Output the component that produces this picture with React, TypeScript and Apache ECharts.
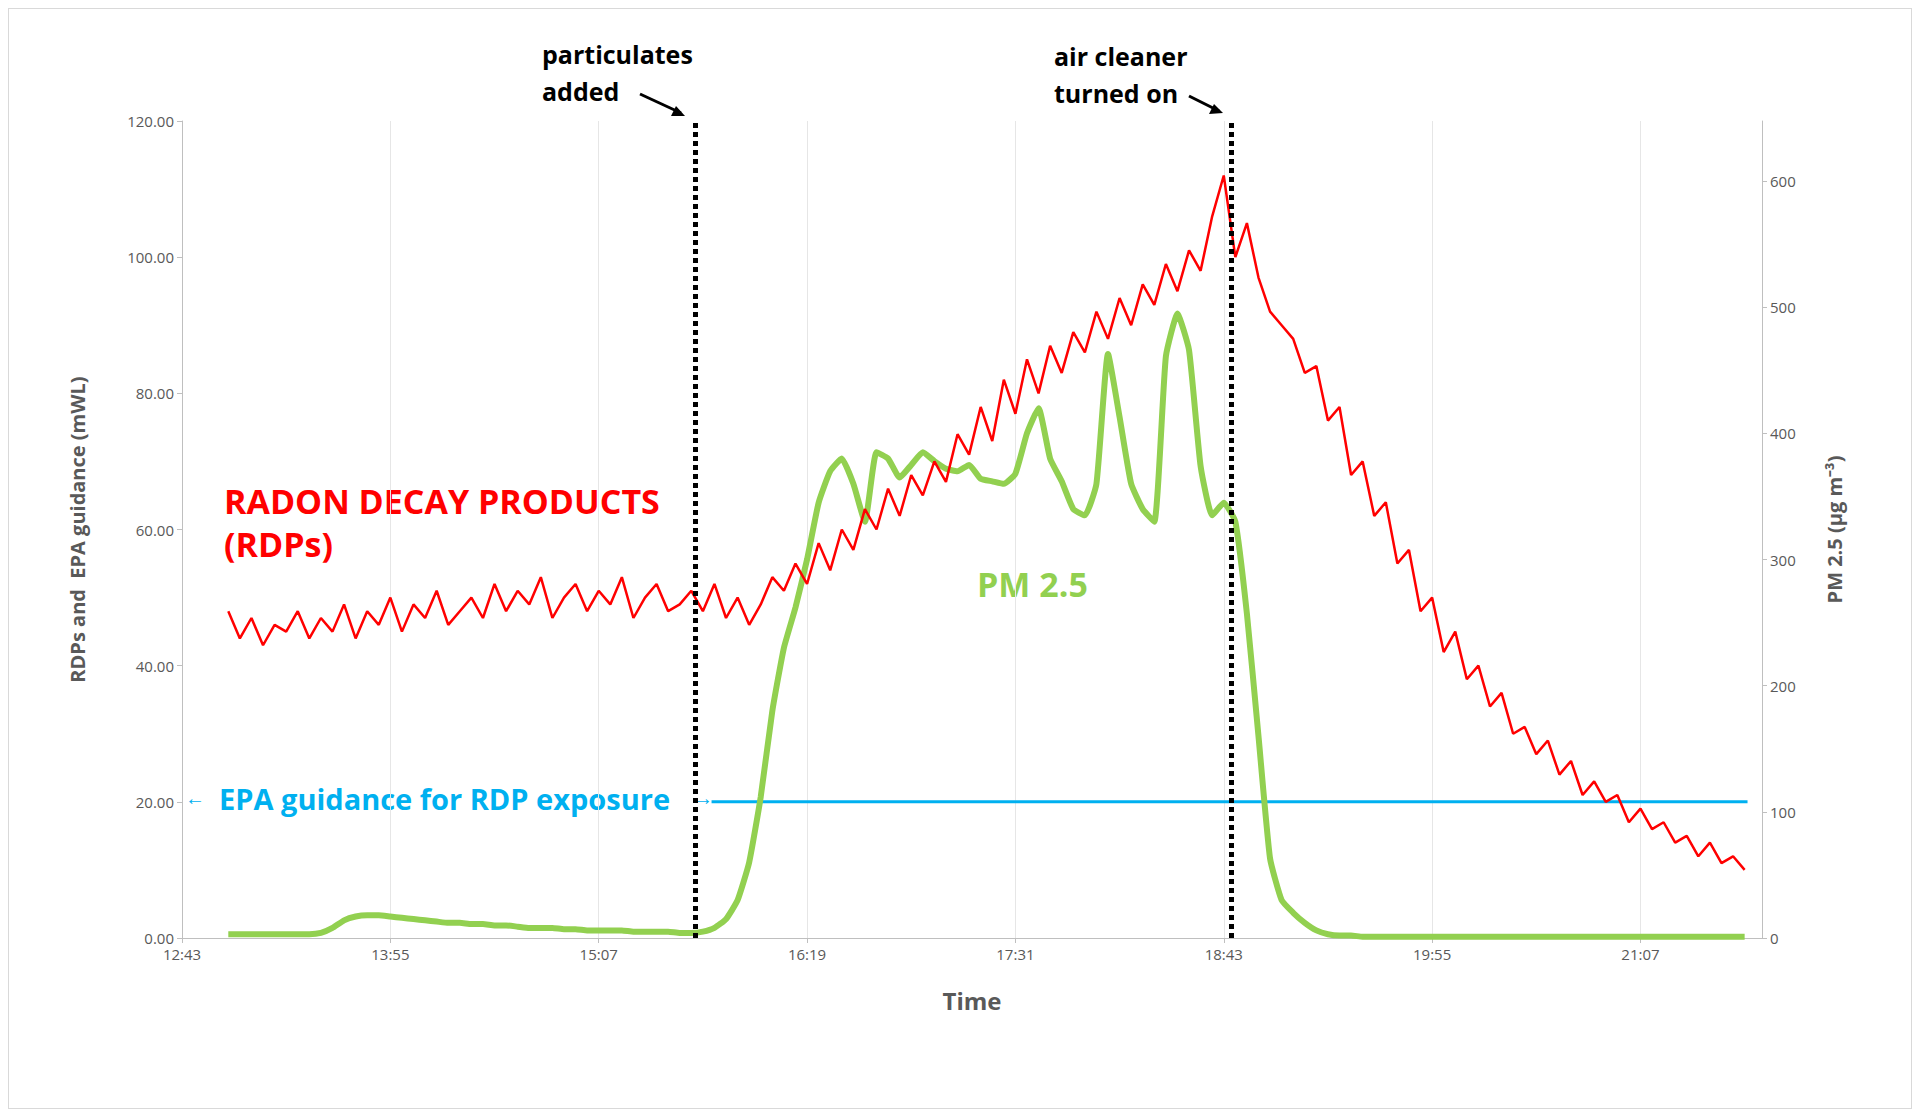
import React, { useEffect, useRef } from 'react';
import * as echarts from 'echarts';

// minutes after 12:43
const startClock = 763;
const sampleStart = 16;
const sampleStep = 4;
const particulatesAt = 177.5;
const cleanerAt = 362.5;
const epaLevel = 20;
const epaFrom = 183;
const epaTo = 541;

const rdpValues = [
  48, 44, 47, 43, 46, 45, 48, 44, 47, 45, 49, 44, 48, 46, 50, 45, 49, 47, 51, 46, 48,
  50, 47, 52, 48, 51, 49, 53, 47, 50, 52, 48, 51, 49, 53, 47, 50, 52, 48, 49, 51,
  48, 52, 47, 50, 46, 49, 53, 51, 55,
  52, 58, 54, 60, 57, 63, 60, 66, 62, 68, 65,
  70, 67, 74, 71, 78, 73, 82, 77, 85, 80, 87, 83, 89, 86, 92, 88, 94, 90, 96, 93, 99, 95, 101, 98, 106,
  112, 100, 105, 97, 92, 90,
  88, 83, 84, 76, 78, 68, 70, 62, 64, 55, 57, 48, 50, 42, 45, 38, 40, 34, 36, 30,
  31, 27, 29, 24, 26, 21, 23, 20, 21, 17, 19, 16, 17, 14, 15, 12, 14, 11, 12, 10,
];

const pmValues = [
  3, 3, 3, 3, 3, 3, 3, 3, 4, 8, 14, 17, 18, 18, 17, 16, 15, 14, 13, 12, 12,
  11, 11, 10, 10, 9, 8, 8, 8, 7, 7, 6, 6, 6, 6, 5, 5, 5, 5, 4, 4,
  5, 8, 15, 30, 60, 112, 180, 230, 262,
  300, 345, 370, 380, 360, 330, 385, 380, 365, 375, 385,
  378, 372, 370, 375, 364, 362, 360, 368, 400, 420, 380, 362, 340, 335, 360, 463, 413, 360, 340, 330,
  461, 495, 466, 374, 335,
  345, 330, 257, 160, 63, 30,
  20, 12, 6, 3, 2, 2, 1, 1, 1, 1, 1, 1, 1, 1, 1, 1, 1, 1, 1, 1,
  1, 1, 1, 1, 1, 1, 1, 1, 1, 1, 1, 1, 1, 1, 1, 1, 1, 1, 1, 1,
];

const clock = (v: number) => {
  const m = Math.round(startClock + v);
  return `${Math.floor(m / 60)}:${String(m % 60).padStart(2, '0')}`;
};

const font = 'Open Sans, Liberation Sans, sans-serif';

const App: React.FC = () => {
  const ref = useRef<HTMLDivElement | null>(null);

  useEffect(() => {
    if (!ref.current) return;
    const chart = echarts.init(ref.current, undefined, { renderer: 'svg' });
    const rdp = rdpValues.map((v, i) => [sampleStart + i * sampleStep, v]);
    const pm = pmValues.map((v, i) => [sampleStart + i * sampleStep, v]);

    chart.setOption({
      animation: false,
      textStyle: { fontFamily: font },
      grid: { left: 173, top: 112, width: 1580, height: 817 },
      xAxis: {
        type: 'value', min: 0, max: 546, interval: 72,
        name: 'Time', nameLocation: 'middle', nameGap: 50,
        nameTextStyle: { fontSize: 24, fontWeight: 'bold', color: '#595959' },
        axisLine: { lineStyle: { color: '#bfbfbf' } },
        axisTick: { show: true, lineStyle: { color: '#bfbfbf' } },
        axisLabel: { formatter: clock, fontSize: 15, color: '#595959', showMaxLabel: false },
        splitLine: { show: true, lineStyle: { color: '#e6e6e6' } },
      },
      yAxis: [
        {
          type: 'value', min: 0, max: 120, interval: 20,
          name: 'RDPs and  EPA guidance (mWL)', nameLocation: 'middle', nameGap: 95,
          nameTextStyle: { fontSize: 20, fontWeight: 'bold', color: '#595959' },
          axisLine: { show: true, lineStyle: { color: '#bfbfbf' } },
          axisTick: { show: true, lineStyle: { color: '#bfbfbf' } },
          axisLabel: { formatter: (v: number) => v.toFixed(2), fontSize: 15, color: '#595959' },
          splitLine: { show: false },
        },
        {
          type: 'value', min: 0, max: 647.6, interval: 100,
          name: 'PM 2.5 (µg m⁻³)', nameLocation: 'middle', nameGap: 62, nameRotate: 90,
          nameTextStyle: { fontSize: 20, fontWeight: 'bold', color: '#595959' },
          axisLine: { show: true, lineStyle: { color: '#bfbfbf' } },
          axisTick: { show: true, lineStyle: { color: '#bfbfbf' } },
          axisLabel: { fontSize: 15, color: '#595959', showMaxLabel: false },
          splitLine: { show: false },
        },
      ],
      series: [
        {
          name: 'EPA', type: 'line', symbol: 'none', yAxisIndex: 0,
          data: [[epaFrom, epaLevel], [epaTo, epaLevel]],
          lineStyle: { color: '#00b0f0', width: 3 },
        },
        {
          name: 'PM 2.5', type: 'line', symbol: 'none', yAxisIndex: 1, smooth: 0.15,
          data: pm, lineStyle: { color: '#92d050', width: 6 },
        },
        {
          name: 'RDPs', type: 'line', symbol: 'none', yAxisIndex: 0,
          data: rdp, lineStyle: { color: '#ff0000', width: 2.5 },
          markLine: {
            symbol: 'none', silent: true, label: { show: false },
            lineStyle: { color: '#000', type: [5, 4], width: 5 },
            data: [{ xAxis: particulatesAt }, { xAxis: cleanerAt }],
          },
        },
      ],
      graphic: [
        { type: 'text', left: 533, top: 26, style: { text: 'particulates\nadded', font: `bold 25px ${font}`, fill: '#000', lineHeight: 37 } },
        { type: 'line', shape: { x1: 631, y1: 85, x2: 672, y2: 104 }, style: { stroke: '#000', lineWidth: 3 } },
        { type: 'polygon', shape: { points: [[676, 107], [662, 107], [667, 97]] }, style: { fill: '#000' } },
        { type: 'text', left: 1045, top: 28, style: { text: 'air cleaner\nturned on', font: `bold 25px ${font}`, fill: '#000', lineHeight: 37 } },
        { type: 'line', shape: { x1: 1180, y1: 87, x2: 1210, y2: 102 }, style: { stroke: '#000', lineWidth: 3 } },
        { type: 'polygon', shape: { points: [[1214, 104], [1200, 105], [1205, 95]] }, style: { fill: '#000' } },
        { type: 'text', left: 215, top: 470, style: { text: 'RADON DECAY PRODUCTS\n(RDPs)', font: `bold 34px ${font}`, fill: '#ff0000', lineHeight: 43 } },
        { type: 'text', left: 968, top: 558, style: { text: 'PM 2.5', font: `bold 34px ${font}`, fill: '#92d050' } },
        { type: 'text', left: 176, top: 778, style: { text: '←', font: `20px ${font}`, fill: '#00b0f0' } },
        { type: 'text', left: 210, top: 775, style: { text: 'EPA guidance for RDP exposure', font: `bold 29px ${font}`, fill: '#00b0f0' } },
        { type: 'text', left: 684, top: 778, style: { text: '→', font: `20px ${font}`, fill: '#00b0f0' } },
      ],
    });
    return () => chart.dispose();
  }, []);

  return (
    <div
      ref={ref}
      style={{ width: 1902, height: 1099, border: '1px solid #d9d9d9', fontFamily: font }}
    />
  );
};

export default App;
